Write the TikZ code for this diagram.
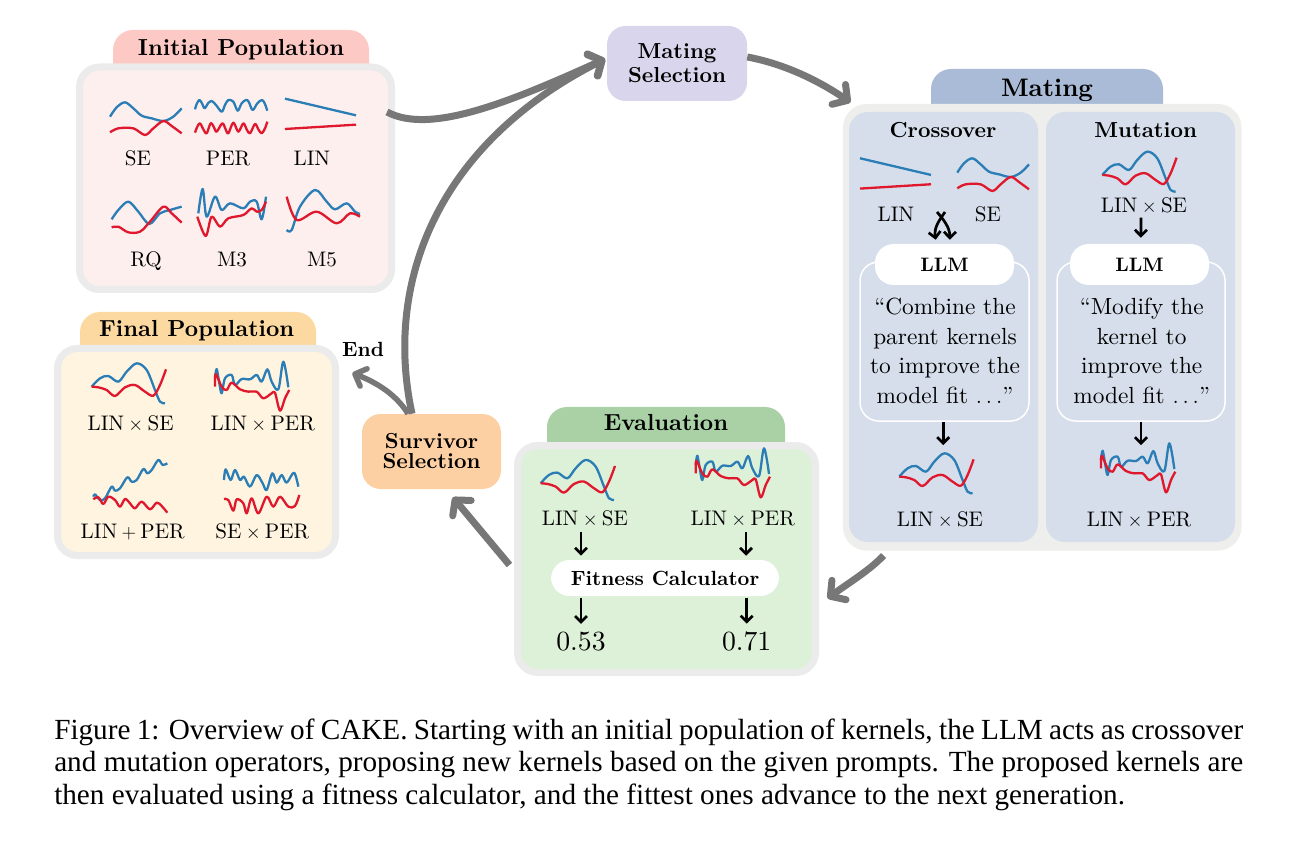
\documentclass[tikz,border=0pt]{standalone}
\usepackage{fontspec}
\setmainfont{lmroman10-regular.otf}[BoldFont=lmroman10-bold.otf]
\usetikzlibrary{arrows.meta}
\newfontfamily\capfont{Liberation Serif}
\def\px{0.75pt}
\definecolor{curveblue}{HTML}{2A7DB5}
\definecolor{curvered}{HTML}{E0182D}
\definecolor{panelrim}{HTML}{EBEBEB}
\definecolor{arrowgrey}{HTML}{777777}
\newcommand\fs[2]{\fontsize{#1pt}{#2pt}\selectfont}
\newcommand\tm{${}\times{}$}
\newcommand\pl{${}+{}$}
\tikzset{
  x=0.75pt,y=-0.75pt,
  panelbox/.style={rectangle,inner sep=0pt,rounded corners=15pt,draw=panelrim,line width=7*\px},
  softbox/.style={rectangle,inner sep=0pt,rounded corners=14pt},
  tabbox/.style={rectangle,inner sep=0pt,rounded corners=15pt},
  lab/.style={anchor=base,inner sep=0pt,font=\fs{15.8}{19}},
  title/.style={anchor=base,inner sep=0pt,font=\bfseries\fs{17.4}{20}},
  bigarrow/.style={draw=arrowgrey,line width=7*\px,-{Straight Barb[round,length=8pt,width=18pt]}},
  smallarrow/.style={draw=black,line width=2.7*\px,-{Straight Barb[length=4.5pt,width=9pt]}},
  curve/.style={line width=2.3*\px,smooth,tension=0.55,line join=round},
}
% name, x1, y1, x2, y2, style
\newcommand\boxat[6]{\node[#6,minimum width={((#4)-(#2))*\px},minimum height={((#5)-(#3))*\px}] (#1) at ({(#2+#4)/2},{(#3+#5)/2}) {};}
% blue and red curves, shifted by (x,y), given in 3x pixels
\newcommand\kernel[4]{\begin{scope}[shift={(#1,#2)},scale=1/3]
\draw[curve,curveblue] plot coordinates {#3};
\draw[curve,curvered] plot coordinates {#4};
\end{scope}}
\def\SEb{(150,290)(170,262)(195,247)(220,265)(245,287)(275,295)(310,303)(340,290)(365,265)}
\def\SEr{(150,337)(175,325)(220,325)(255,345)(280,325)(310,303)(335,318)(365,340)}
\def\PERb{(405,268)(410,252)(418,240)(426,250)(434,265)(444,250)(455,243)(468,255)(485,275)(495,255)(505,240)(520,245)(533,272)(545,250)(558,240)(566,245)(578,270)(592,250)(606,240)(614,250)(622,272)}
\def\PERr{(405,338)(412,320)(420,310)(430,328)(440,340)(452,310)(462,322)(470,335)(487,310)(497,328)(505,340)(520,308)(535,335)(550,310)(560,328)(570,340)(585,312)(595,328)(605,340)(615,325)(622,305)}
\def\LINb{(675,236)(888,286)}
\def\LINr{(675,327)(888,314)}
\def\RQb{(155,598)(175,570)(205,545)(235,575)(268,612)(300,580)(330,570)(365,560)}
\def\RQr{(155,622)(175,620)(205,637)(240,635)(270,605)(310,560)(335,580)(365,608)}
\def\MTb{(415,580)(428,507)(440,590)(465,530)(485,570)(510,550)(550,565)(570,545)(590,545)(605,598)(618,530)}
\def\MTr{(412,590)(437,648)(455,590)(480,620)(505,595)(550,585)(575,565)(590,575)(605,570)(618,545)}
\def\MFb{(680,630)(695,630)(720,560)(765,510)(800,545)(825,568)(860,550)(885,575)(900,582)}
\def\MFr{(680,530)(710,600)(770,575)(830,610)(870,580)(900,590)}
\def\LSb{(155,260)(180,235)(205,228)(235,245)(260,215)(290,190)(320,210)(345,270)(360,305)(375,310)}
\def\LSr{(155,260)(175,262)(200,270)(225,288)(255,262)(285,255)(315,275)(340,287)(360,255)(378,208)}
\def\LPb{(525,235)(530,207)(538,250)(545,280)(555,235)(575,225)(585,255)(605,237)(630,238)(650,225)(665,245)(682,208)(695,245)(715,268)(730,185)(745,262)}
\def\LPr{(525,260)(527,222)(545,260)(560,270)(575,248)(600,268)(625,275)(650,275)(670,295)(695,280)(705,278)(720,332)(735,295)(748,270)}
\def\LAb{(160,590)(165,583)(180,600)(195,595)(215,560)(225,572)(240,565)(262,532)(275,545)(290,540)(310,507)(322,520)(335,510)(355,480)(368,495)(382,490)}
\def\LAr{(160,598)(175,592)(190,612)(205,590)(225,600)(240,620)(255,597)(270,610)(285,625)(305,605)(330,628)(350,608)(365,618)(382,638)}
\def\SPb{(552,540)(557,508)(572,540)(585,510)(600,540)(612,530)(630,560)(650,525)(668,550)(680,570)(697,520)(710,548)(725,525)(740,548)(762,518)(775,560)}
\def\SPr{(552,597)(565,600)(580,632)(590,598)(610,610)(620,640)(635,595)(655,640)(680,590)(700,620)(720,590)(745,620)(765,618)(778,585)}
\begin{document}
\begin{tikzpicture}
\useasboundingbox (0,0) rectangle (1299,841);
% tabs
\boxat{inittab}{113}{30}{369}{100}{tabbox,fill={rgb,255:red,253;green,201;blue,196}}
\boxat{finaltab}{80}{312}{316}{380}{tabbox,fill={rgb,255:red,252;green,217;blue,160}}
\boxat{matingtab}{931}{69}{1163}{140}{tabbox,fill={rgb,255:red,169;green,187;blue,214}}
\boxat{evaltab}{547}{407}{785}{480}{tabbox,fill={rgb,255:red,169;green,209;blue,165}}
% panels
\boxat{initp}{79.5}{67}{391.5}{289.5}{panelbox,fill={rgb,255:red,252;green,239;blue,238}}
\boxat{finalp}{57.5}{348.5}{335.5}{555.5}{panelbox,fill={rgb,255:red,254;green,244;blue,224}}
\boxat{matingp}{846.5}{107.5}{1238}{547}{panelbox,draw={rgb,255:red,238;green,238;blue,236},fill={rgb,255:red,238;green,238;blue,236}}
\boxat{evalp}{517.5}{445.5}{815.5}{672.5}{panelbox,fill={rgb,255:red,221;green,241;blue,216}}
\boxat{crossp}{849}{112}{1038}{542}{softbox,fill={rgb,255:red,213;green,222;blue,234}}
\boxat{mutp}{1046}{112}{1235}{542}{softbox,fill={rgb,255:red,213;green,222;blue,234}}
% selection boxes
\boxat{matesel}{607}{26}{747}{101}{softbox,fill={rgb,255:red,217;green,213;blue,236}}
\boxat{survivor}{362}{414}{501}{489}{softbox,fill={rgb,255:red,253;green,208;blue,164}}
% prompt boxes and pills
\boxat{cprompt}{860}{262}{1029}{421}{softbox,draw=white,line width=1.5*\px}
\boxat{mprompt}{1057}{262}{1225}{421}{softbox,draw=white,line width=1.5*\px}
\boxat{cllm}{875}{244}{1014}{285}{softbox,fill=white}
\boxat{mllm}{1070}{244}{1209}{285}{softbox,fill=white}
\boxat{fitness}{551}{560}{779}{596}{softbox,fill=white}
% titles
\node[title] (inittitle) at (241,56) {Initial Population};
\node[title] (finaltitle) at (196.7,336.7) {Final Population};
\node[title,font=\bfseries\fs{19}{22}] (matingtitle) at (1047,96.7) {Mating};
\node[title] (evaltitle) at (666,431) {Evaluation};
\node[title,font=\bfseries\fs{16.3}{19}] (crosstitle) at (943,138) {Crossover};
\node[title,font=\bfseries\fs{16.3}{19}] (muttitle) at (1145.7,138) {Mutation};
\node[inner sep=0pt,align=center,font=\bfseries\fs{16.3}{17.8}] (matesellab) at (677,63.5) {Mating\\Selection};
\node[inner sep=0pt,align=center,font=\bfseries\fs{16.3}{15}] (survivorlab) at (431.5,451) {Survivor\\Selection};
\node[inner sep=0pt,font=\bfseries\fs{14.6}{17}] (cllmlab) at (cllm) {LLM};
\node[inner sep=0pt,font=\bfseries\fs{14.6}{17}] (mllmlab) at (mllm) {LLM};
\node[inner sep=0pt,font=\bfseries\fs{15.4}{18}] (fitlab) at (fitness) {Fitness Calculator};
\node[title,font=\bfseries\fs{15.4}{18}] (endlab) at (363,357) {End};
% prompt text
\node[inner sep=0pt,align=center,font=\fs{17.5}{22.1}] (ctext) at (945,351) {``Combine the\\parent kernels\\to improve the\\model fit $\ldots$''};
\node[inner sep=0pt,align=center,font=\fs{17.5}{22.1}] (mtext) at (1141.7,351) {``Modify the\\kernel to\\improve the\\model fit $\ldots$''};
% labels: initial population
\node[lab] (l1) at (138,165.7) {SE};
\node[lab] (l2) at (228,165.7) {PER};
\node[lab] (l3) at (312,165.7) {LIN};
\node[lab] (l4) at (146,267) {RQ};
\node[lab] (l5) at (232,267) {M3};
\node[lab] (l6) at (322,267) {M5};
% labels: final population
\node[lab] (l7) at (130.7,430.7) {LIN\tm SE};
\node[lab] (l8) at (262.7,430.7) {LIN\tm PER};
\node[lab] (l9) at (132.7,538) {LIN\pl PER};
\node[lab] (l10) at (262.3,538) {SE\tm PER};
% labels: mating
\node[lab] (clin) at (896,221.7) {LIN};
\node[lab] (cse) at (988,222) {SE};
\node[lab] (mls) at (1144,213) {LIN\tm SE};
\node[lab] (cout) at (940,526) {LIN\tm SE};
\node[lab] (mout) at (1139,526) {LIN\tm PER};
% labels: evaluation
\node[lab] (els) at (585,525) {LIN\tm SE};
\node[lab] (elp) at (742.7,525) {LIN\tm PER};
\node[lab,font=\fs{20.8}{24}] (score1) at (581,650.7) {0.53};
\node[lab,font=\fs{20.8}{24}] (score2) at (746.7,650.7) {0.71};
% curves
\kernel{60}{20}{\SEb}{\SEr}
\kernel{60}{20}{\PERb}{\PERr}
\kernel{60}{20}{\LINb}{\LINr}
\kernel{60}{20}{\RQb}{\RQr}
\kernel{60}{20}{\MTb}{\MTr}
\kernel{60}{20}{\MFb}{\MFr}
\kernel{40}{300}{\LSb}{\LSr}
\kernel{40}{300}{\LPb}{\LPr}
\kernel{40}{300}{\LAb}{\LAr}
\kernel{40}{300}{\SPb}{\SPr}
\kernel{635}{79.6}{\LINb}{\LINr}
\kernel{907.3}{76}{\SEb}{\SEr}
\kernel{1050.6}{88.3}{\LSb}{\LSr}
\kernel{847.6}{390}{\LSb}{\LSr}
\kernel{926}{381.7}{\LPb}{\LPr}
\kernel{489}{396.6}{\LSb}{\LSr}
\kernel{520.7}{386.7}{\LPb}{\LPr}
% small arrows
\coordinate (xa) at (945,212);
\coordinate (xb) at (937,212);
\draw[smallarrow] (xa) .. controls (938,222) and (934,228) .. ([yshift=3pt,xshift=-6.6pt]cllm.north);
\draw[smallarrow] (xb) .. controls (944,220) and (950,228) .. ([yshift=3pt,xshift=4pt]cllm.north);
\draw[smallarrow] ([xshift=-2.2pt,yshift=-2pt]mls.south) -- ([xshift=1pt,yshift=4.5pt]mllm.north);
\draw[smallarrow] ([xshift=-1pt]cprompt.south) -- ([xshift=-1pt,yshift=-17.5pt]cprompt.south);
\draw[smallarrow] (mprompt.south) -- ([yshift=-17.5pt]mprompt.south);
\draw[smallarrow] ([xshift=-3pt,yshift=-4pt]els.south) -- ([xshift=-3pt,yshift=3pt]els.south |- fitness.north);
\draw[smallarrow] ([xshift=2.5pt,yshift=-4pt]elp.south) -- ([xshift=2.5pt,yshift=3pt]elp.south |- fitness.north);
\draw[smallarrow] ([yshift=-1pt]score1.north |- fitness.south) -- ([yshift=6pt]score1.north);
\draw[smallarrow] ([yshift=-1pt]score2.north |- fitness.south) -- ([yshift=6pt]score2.north);
% big arrows
\draw[bigarrow] ([xshift=-14.6pt]survivor.north) .. controls (384,285) and (435,145) .. ([xshift=-1.2pt,yshift=3.4pt]matesel.west);
\draw[bigarrow] ([xshift=-6pt,yshift=49.7pt]initp.east) .. controls (430,135) and (510,102) .. ([xshift=-1.2pt,yshift=3.4pt]matesel.west);
\draw[bigarrow] ([yshift=4.9pt]matesel.east) .. controls (790,65) and (825,85) .. ([xshift=5.6pt,yshift=1.2pt]matingp.north west);
\draw[bigarrow] ([xshift=30.4pt,yshift=-3.75pt]matingp.south west) .. controls (870,570) and (850,582) .. ([xshift=6.4pt,yshift=-29.5pt]evalp.east);
\draw[bigarrow] ([xshift=-3.4pt,yshift=-4.5pt]evalp.west) -- ([xshift=16pt,yshift=-6pt]survivor.south);
\draw[bigarrow,line width=5.5*\px,-{Straight Barb[round,length=7pt,width=14pt]}] ([xshift=-17.6pt]survivor.north) .. controls (395,393) and (375,382) .. ([xshift=10pt,yshift=-21pt]finalp.north east);
% caption
\node[anchor=north west,inner sep=0pt,align=left,font=\capfont\fs{21.9}{24.4}] (caption) at (54,718.5) {\makebox[891.75pt][s]{Figure 1: Overview of CAKE. Starting with an initial population of kernels, the LLM acts as crossover}\\\makebox[891.75pt][s]{and mutation operators, proposing new kernels based on the given prompts. The proposed kernels are}\\then evaluated using a fitness calculator, and the fittest ones advance to the next generation.};
\end{tikzpicture}
\end{document}
